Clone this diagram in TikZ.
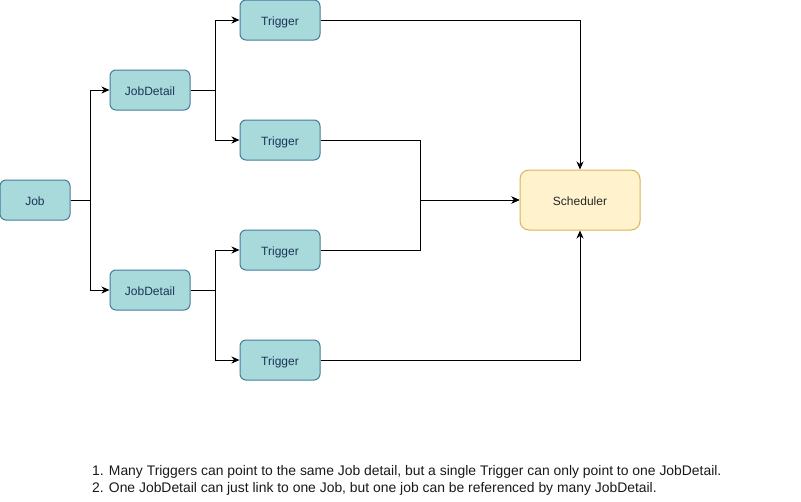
\documentclass[tikz,border=0pt]{standalone}
\usepackage{fontspec}
\setmainfont{Liberation Sans}
\usetikzlibrary{arrows.meta}
\definecolor{tealfill}{HTML}{A8DADC}
\definecolor{tealline}{HTML}{457B9D}
\definecolor{tealtext}{HTML}{1D3557}
\definecolor{yelfill}{HTML}{FFF2CC}
\definecolor{yelline}{HTML}{D6B656}
\tikzset{
  tbox/.style={draw=tealline, fill=tealfill, text=tealtext, rounded corners=6pt, line width=1pt, minimum width=80pt, minimum height=40pt, inner sep=0pt, text height=10pt, text depth=0pt, font=\fontsize{12}{14}\selectfont},
  sbox/.style={draw=yelline, fill=yelfill, text=black!85, rounded corners=9pt, line width=1pt, minimum width=120pt, minimum height=60pt, inner sep=0pt, text height=10pt, text depth=0pt, font=\fontsize{12}{14}\selectfont},
  conn/.style={line width=1pt, -{Stealth[length=8pt,width=7pt,inset=2.5pt]}}
}
\begin{document}
\begin{tikzpicture}[x=1pt,y=-1pt]
\useasboundingbox (0,0) rectangle (801,501);
\node[tbox, minimum width=70pt] (job) at (35,200) {Job};
\node[tbox] (jd1) at (150,90) {JobDetail};
\node[tbox] (jd2) at (150,290) {JobDetail};
\node[tbox] (t1) at (280,20) {Trigger};
\node[tbox] (t2) at (280,140) {Trigger};
\node[tbox] (t3) at (280,250) {Trigger};
\node[tbox] (t4) at (280,360) {Trigger};
\node[sbox] (s) at (580,200) {Scheduler};
\draw[conn] (job.east) -- (90,200) |- (jd1.west);
\draw[conn] (job.east) -- (90,200) |- (jd2.west);
\draw[conn] (jd1.east) -- (215,90) |- (t1.west);
\draw[conn] (jd1.east) -- (215,90) |- (t2.west);
\draw[conn] (jd2.east) -- (215,290) |- (t3.west);
\draw[conn] (jd2.east) -- (215,290) |- (t4.west);
\draw[conn] (t1.east) -| (s.north);
\draw[conn] (t2.east) -- (420,140) |- (s.west);
\draw[conn] (t3.east) -- (420,250) |- (s.west);
\draw[conn] (t4.east) -| (s.south);
\node[anchor=west, align=left, font=\fontsize{13.9}{17}\selectfont, text=black!90, inner sep=0pt] (note) at (92,480) {1. Many Triggers can point to the same Job detail, but a single Trigger can only point to one JobDetail.\\2. One JobDetail can just link to one Job, but one job can be referenced by many JobDetail.};
\end{tikzpicture}
\end{document}
